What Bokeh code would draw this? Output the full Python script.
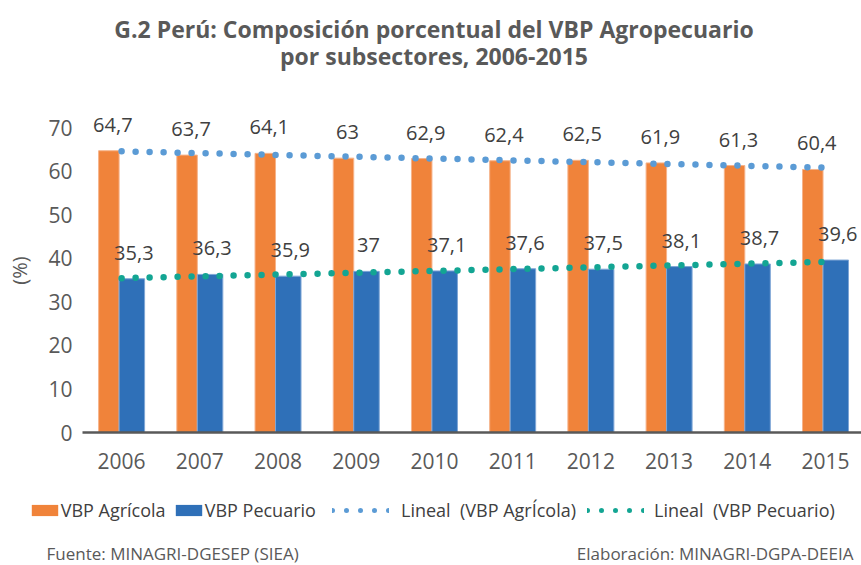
import numpy as np
from bokeh.plotting import figure
from bokeh.layouts import column
from bokeh.models import Range1d, FixedTicker, Legend, LegendItem, Label, ColumnDataSource
from bokeh.core.properties import value
from bokeh.embed import file_html
from bokeh.resources import INLINE

# ---- data ----
years = ["2006", "2007", "2008", "2009", "2010", "2011", "2012", "2013", "2014", "2015"]
agricola = [64.7, 63.7, 64.1, 63.0, 62.9, 62.4, 62.5, 61.9, 61.3, 60.4]
pecuario = [35.3, 36.3, 35.9, 37.0, 37.1, 37.6, 37.5, 38.1, 38.7, 39.6]
y_ticks = [0, 10, 20, 30, 40, 50, 60, 70]

title_1 = "G.2 Perú: Composición porcentual del VBP Agropecuario"
title_2 = "por subsectores, 2006-2015"
source_txt = "Fuente: MINAGRI-DGESEP (SIEA)"
elab_txt = "Elaboración: MINAGRI-DGPA-DEEIA"
legend_labels = ["VBP Agrícola", "VBP Pecuario", "Lineal  (VBP AgrÍcola)", "Lineal  (VBP Pecuario)"]

FONT = "Open Sans"
ORANGE = "#F0833A"
BLUE = "#2F70B8"
DOT_BLUE = "#5B9BD5"
TEAL = "#13A593"
TXT = "#404040"
GRAY = "#595959"

W = 861
H_HEAD, H_MAIN, H_FOOT = 90, 398, 77

idx = np.arange(len(years))


def fmt(v):
    return f"{v:g}".replace(".", ",")


def blank(h):
    f = figure(width=W, height=h, x_range=Range1d(0, W), y_range=Range1d(0, h),
               x_axis_location=None, y_axis_location=None,
               output_backend="svg", toolbar_location=None, min_border=0)
    f.outline_line_color = None
    f.grid.visible = False
    f.frame_align = False
    return f


# ---------------- header ----------------
head = blank(H_HEAD)
for txt, yy in [(title_1, H_HEAD - 28), (title_2, H_HEAD - 55)]:
    head.add_layout(Label(x=433.5, y=yy, text=txt,
                          text_align="center", text_baseline="middle",
                          text_font=FONT, text_font_size="23px", text_font_style="bold",
                          text_color=GRAY))

# ---------------- main chart ----------------
src_a = ColumnDataSource(dict(x=idx - 0.163, top=agricola, lbl=[fmt(v) for v in agricola]))
src_p = ColumnDataSource(dict(x=idx + 0.131, top=pecuario, lbl=[fmt(v) for v in pecuario]))

fit_a = np.polyval(np.polyfit(idx, agricola, 1), idx)
fit_p = np.polyval(np.polyfit(idx, pecuario, 1), idx)

p = figure(width=W, height=H_MAIN,
           x_range=Range1d(-0.5, 9.46), y_range=Range1d(0, 74.4),
           output_backend="svg", toolbar_location=None,
           min_border_left=82, min_border_right=0,
           min_border_top=18, min_border_bottom=56)
p.outline_line_color = None
p.grid.visible = False
p.frame_align = False

p.vbar(x="x", top="top", width=0.262, source=src_a, fill_color=ORANGE, line_color="#F6B38A", line_width=1)
p.vbar(x="x", top="top", width=0.326, source=src_p, fill_color=BLUE, line_color="#7FA6D6", line_width=1)

p.line(idx, fit_a, line_color=DOT_BLUE, line_width=6.5, line_dash="0 14", line_cap="round")
p.line(idx, fit_p, line_color=TEAL, line_width=6.5, line_dash="0 14", line_cap="round")

p.text(x="x", y="top", text="lbl", source=src_a, x_offset=4, y_offset=-26,
       text_align="center", text_baseline="middle", text_font=value(FONT),
       text_font_size="20px", text_color=TXT)
p.text(x="x", y="top", text="lbl", source=src_p, x_offset=2, y_offset=-26,
       text_align="center", text_baseline="middle", text_font=value(FONT),
       text_font_size="20px", text_color=TXT)

xa = p.xaxis[0]
xa.ticker = FixedTicker(ticks=list(idx))
xa.major_label_overrides = {int(i): y for i, y in zip(idx, years)}
xa.major_tick_out = 0
xa.major_tick_in = 0
xa.minor_tick_out = 0
xa.minor_tick_in = 0
xa.axis_line_color = GRAY
xa.axis_line_width = 2.5
xa.major_label_standoff = 20
xa.major_label_text_font = FONT
xa.major_label_text_font_size = "21px"
xa.major_label_text_color = GRAY

ya = p.yaxis[0]
ya.ticker = FixedTicker(ticks=y_ticks)
ya.major_tick_out = 0
ya.major_tick_in = 0
ya.minor_tick_out = 0
ya.minor_tick_in = 0
ya.axis_line_color = None
ya.major_label_standoff = 10
ya.major_label_text_font = FONT
ya.major_label_text_font_size = "21px"
ya.major_label_text_color = GRAY
ya.axis_label = "(%)"
ya.axis_label_text_font = FONT
ya.axis_label_text_font_size = "20px"
ya.axis_label_text_font_style = "normal"
ya.axis_label_text_color = GRAY
ya.axis_label_standoff = 12

# ---------------- footer: legend + source ----------------
foot = blank(H_FOOT)
# invisible one-point proxies (zero height / single point) that only feed the legend glyphs
lg_a = foot.vbar(x=[0], top=[0], width=0, fill_color=ORANGE, line_color=None)
lg_p = foot.vbar(x=[0], top=[0], width=0, fill_color=BLUE, line_color=None)
lg_ta = foot.line(x=[0], y=[0], line_color=DOT_BLUE, line_width=5, line_dash="0 14", line_cap="round")
lg_tp = foot.line(x=[0], y=[0], line_color=TEAL, line_width=5, line_dash="0 14", line_cap="round")

LEG_Y = 43
specs = [
    (legend_labels[0], lg_a, 27.7, 33, 0),
    (legend_labels[1], lg_p, 171.7, 33, 0),
    (legend_labels[2], lg_ta, 332, 57, 12),
    (legend_labels[3], lg_tp, 587, 57, 10),
]
for lbl, rend, lx, gw, st in specs:
    lg = Legend(items=[LegendItem(label=lbl, renderers=[rend])],
                location=(lx, LEG_Y), orientation="horizontal",
                glyph_width=gw, glyph_height=14, label_standoff=st,
                padding=0, margin=0, spacing=0,
                border_line_color=None, background_fill_alpha=0,
                label_text_font=FONT, label_text_font_size="18px",
                label_text_color=TXT)
    foot.add_layout(lg, "center")

foot.add_layout(Label(x=46, y=12, text=source_txt,
                      text_align="left", text_baseline="middle",
                      text_font=FONT, text_font_size="17px", text_color=GRAY))
foot.add_layout(Label(x=853, y=12, text=elab_txt,
                      text_align="right", text_baseline="middle",
                      text_font=FONT, text_font_size="17px", text_color=GRAY))

layout = column(head, p, foot, spacing=0)
open("out.html", "w").write(file_html(layout, INLINE))
